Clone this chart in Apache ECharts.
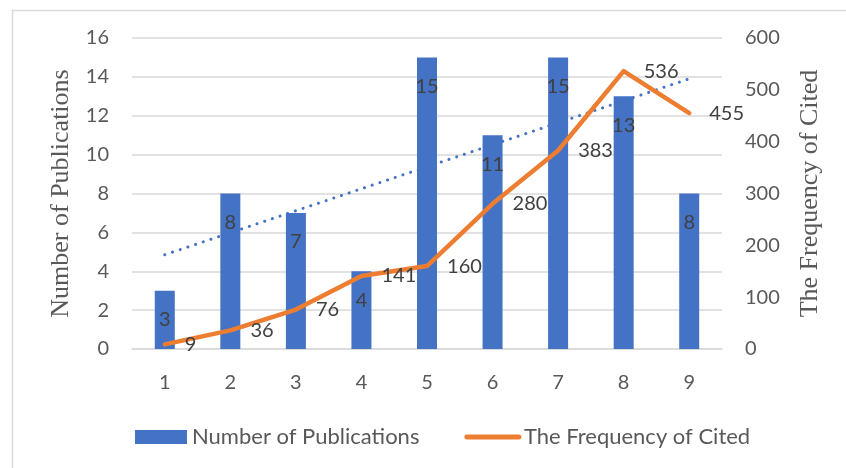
<!DOCTYPE html>
<html>
<head>
<meta charset="utf-8">
<script src="https://cdn.jsdelivr.net/npm/echarts@6/dist/echarts.min.js"></script>
<style>
  html, body { margin: 0; padding: 0; background: #fff; }
  #chart { width: 846px; height: 468px; }
</style>
</head>
<body>
<div id="chart"></div>
<script>
// Categories along the x axis
const categories = ['1', '2', '3', '4', '5', '6', '7', '8', '9'];
// Number of publications per category (left axis)
const publications = [3, 8, 7, 4, 15, 11, 15, 13, 8];
// Citation frequency per category (right axis)
const citations = [9, 36, 76, 141, 160, 280, 383, 536, 455];
// Linear trend of publications: value at first and last category
const trendStart = 4.85;
const trendEnd = 13.9;

const textFont = 'Lato';
const titleFont = 'Liberation Serif';

const chart = echarts.init(document.getElementById('chart'), null, { renderer: 'canvas' });

chart.setOption({
  animation: false,
  backgroundColor: '#ffffff',
  grid: { left: 132, right: 124, top: 38, bottom: 119, containLabel: false },
  graphic: [{
    type: 'rect',
    shape: { x: 12.5, y: 10.5, width: 900, height: 500 },
    style: { fill: 'none', stroke: '#d9d9d9', lineWidth: 1.5 },
    silent: true,
    z: -1
  }],
  legend: {
    left: 130,
    top: 421,
    itemWidth: 52,
    itemHeight: 14,
    itemGap: 45,
    textStyle: { fontFamily: textFont, fontSize: 22, color: '#595959' },
    data: [
      { name: 'Number of Publications', icon: 'rect' },
      {
        name: 'The Frequency of Cited',
        itemStyle: { opacity: 0 },
        lineStyle: { color: '#ED7D31', width: 5, cap: 'round' }
      }
    ]
  },
  xAxis: {
    type: 'category',
    data: categories,
    axisTick: { show: false },
    axisLine: { show: true, lineStyle: { color: '#d9d9d9', width: 1.5 } },
    axisLabel: { fontFamily: textFont, fontSize: 20, color: '#595959', margin: 24 }
  },
  yAxis: [{
    type: 'value',
    min: 0, max: 16, interval: 2,
    name: 'Number of Publications',
    nameLocation: 'middle',
    nameRotate: 90,
    nameGap: 58,
    nameTextStyle: { fontFamily: titleFont, fontSize: 26, color: '#595959' },
    axisLine: { show: false },
    axisTick: { show: false },
    splitLine: { lineStyle: { color: '#d9d9d9', width: 1.5 } },
    axisLabel: { fontFamily: textFont, fontSize: 20, color: '#595959', margin: 23 }
  }, {
    type: 'value',
    min: 0, max: 600, interval: 100,
    position: 'right',
    name: 'The Frequency of Cited',
    nameLocation: 'middle',
    nameRotate: 90,
    nameGap: 75,
    nameTextStyle: { fontFamily: titleFont, fontSize: 26, color: '#595959' },
    axisLine: { show: false },
    axisTick: { show: false },
    splitLine: { show: false },
    axisLabel: { fontFamily: textFont, fontSize: 20, color: '#595959', margin: 23 }
  }],
  series: [{
    name: 'Number of Publications',
    type: 'bar',
    yAxisIndex: 0,
    data: publications,
    barWidth: 20,
    itemStyle: { color: '#4472C4' },
    label: {
      show: true,
      position: 'insideTop',
      distance: 19,
      fontFamily: textFont,
      fontSize: 20,
      color: '#404040'
    },
    z: 2
  }, {
    name: 'trend',
    type: 'line',
    yAxisIndex: 0,
    data: [[0, trendStart], [8, trendEnd]],
    symbol: 'none',
    lineStyle: { color: '#4472C4', width: 3, type: [0.1, 8], cap: 'round' },
    silent: true,
    z: 3
  }, {
    name: 'The Frequency of Cited',
    type: 'line',
    yAxisIndex: 1,
    data: citations,
    symbol: 'circle',
    symbolSize: 0.1,
    showSymbol: true,
    itemStyle: { color: '#ED7D31' },
    lineStyle: { color: '#ED7D31', width: 4.5, cap: 'round', join: 'round' },
    label: {
      show: true,
      position: 'right',
      distance: 20,
      offset: [0, 2],
      fontFamily: textFont,
      fontSize: 20,
      color: '#404040'
    },
    labelLayout: { hideOverlap: false },
    z: 4
  }]
});
</script>
</body>
</html>
